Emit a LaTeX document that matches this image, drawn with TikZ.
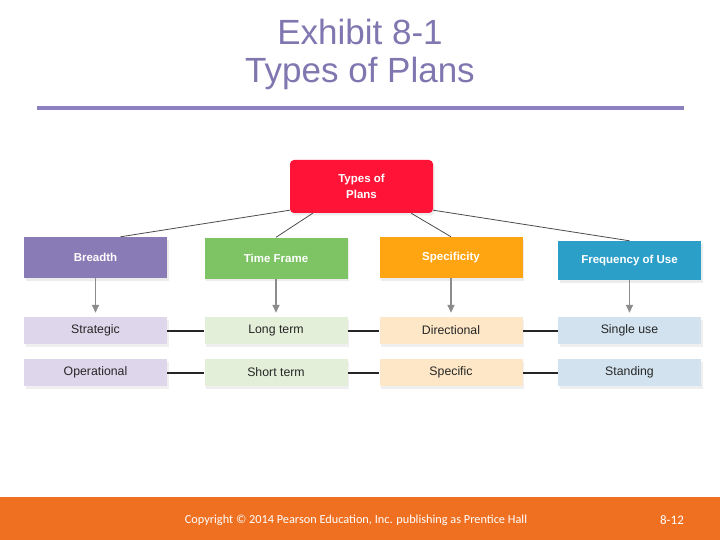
\documentclass[tikz,border=0pt]{standalone}
\usepackage{fontspec}
\setmainfont{Liberation Sans}
\newfontfamily\calib{Carlito}
\usetikzlibrary{shadows,arrows.meta}
\definecolor{ttl}{RGB}{128,118,176}
\definecolor{rul}{RGB}{140,128,190}
\definecolor{redb}{RGB}{255,20,55}
\definecolor{purb}{RGB}{137,123,181}
\definecolor{grnb}{RGB}{126,196,100}
\definecolor{orgb}{RGB}{255,165,17}
\definecolor{blub}{RGB}{44,159,201}
\definecolor{purl}{RGB}{222,214,234}
\definecolor{grnl}{RGB}{227,239,217}
\definecolor{orgl}{RGB}{253,231,198}
\definecolor{blul}{RGB}{210,227,239}
\definecolor{foot}{RGB}{240,112,34}
\tikzset{
  x=1pt,y=-1pt,
  hbox/.style={draw=none,minimum width=143pt,minimum height=41pt,inner sep=0pt,
    text=white,font=\fontsize{11.5}{13}\selectfont\bfseries,
    drop shadow={shadow xshift=1.5pt,shadow yshift=-2.5pt,opacity=0.15}},
  lbox/.style={draw=none,minimum width=143pt,minimum height=27pt,inner sep=0pt,
    text=black!85,font=\fontsize{12.3}{14}\selectfont,
    drop shadow={shadow xshift=1.5pt,shadow yshift=-2.5pt,opacity=0.12}},
  tie/.style={line width=0.8pt,black!70},
  hconn/.style={line width=2pt,black!85},
  varr/.style={line width=1.6pt,black!45,-{Triangle[length=8pt,width=7pt]}}
}
\begin{document}
\begin{tikzpicture}
\useasboundingbox (0,0) rectangle (720,540);
\fill[white] (0,0) rectangle (720,540);
% title
\node[text=ttl,font=\fontsize{35}{40}\selectfont] (t1) at (360,32) {Exhibit 8-1};
\node[text=ttl,font=\fontsize{35}{40}\selectfont] (t2) at (360,73) {Types of Plans};
\fill[rul] (37,106.5) rectangle (684,110);
% top
\node[fill=redb,rounded corners=4pt,minimum width=143pt,minimum height=53pt,inner sep=0pt,
  text=white,font=\fontsize{11.5}{16}\selectfont\bfseries,align=center,
  drop shadow={shadow xshift=1.5pt,shadow yshift=-2.5pt,opacity=0.15}] (top) at (361.5,186.5) {Types of\\Plans};
% heads
\node[hbox,fill=purb] (h1) at (95.5,257.5) {Breadth};
\node[hbox,fill=grnb] (h2) at (276,258) {Time Frame};
\node[hbox,fill=orgb] (h3) at (451,257.5) {Specificity};
\node[hbox,fill=blub,minimum height=39pt] (h4) at (629.5,260.5) {Frequency of Use};
% ties
\draw[tie] ([yshift=3pt]top.south west) -- ([xshift=25pt]h1.north);
\draw[tie] ([xshift=23pt]top.south west) -- (h2.north);
\draw[tie] ([xshift=-22pt]top.south east) -- (h3.north);
\draw[tie] ([yshift=3pt]top.south east) -- (h4.north);
% rows
\node[lbox,fill=purl] (a1) at (95.5,330.5) {Strategic};
\node[lbox,fill=grnl] (a2) at (276,330.5) {Long term};
\node[lbox,fill=orgl] (a3) at (451,330.5) {Directional};
\node[lbox,fill=blul] (a4) at (629.5,330.5) {Single use};
\node[lbox,fill=purl] (b1) at (95.5,372.5) {Operational};
\node[lbox,fill=grnl] (b2) at (276,372.5) {Short term};
\node[lbox,fill=orgl] (b3) at (451,372.5) {Specific};
\node[lbox,fill=blul] (b4) at (629.5,372.5) {Standing};
\foreach \i/\j in {1/2,2/3,3/4}{
  \draw[hconn] (a\i.east) -- (a\j.west);
  \draw[hconn] (b\i.east) -- (b\j.west);
}
\foreach \i in {1,2,3,4}{
  \draw[varr] (h\i.south) -- ([yshift=4pt]a\i.north);
}
% footer
\fill[foot] (0,497) rectangle (720,540);
\node[text=white,font=\calib\fontsize{12.3}{14}\selectfont] (cp) at (356,520.5) {Copyright © 2014 Pearson Education, Inc. publishing as Prentice Hall};
\node[text=white,font=\calib\fontsize{13}{14}\selectfont] (pg) at (672,520.5) {8-12};
\end{tikzpicture}
\end{document}
